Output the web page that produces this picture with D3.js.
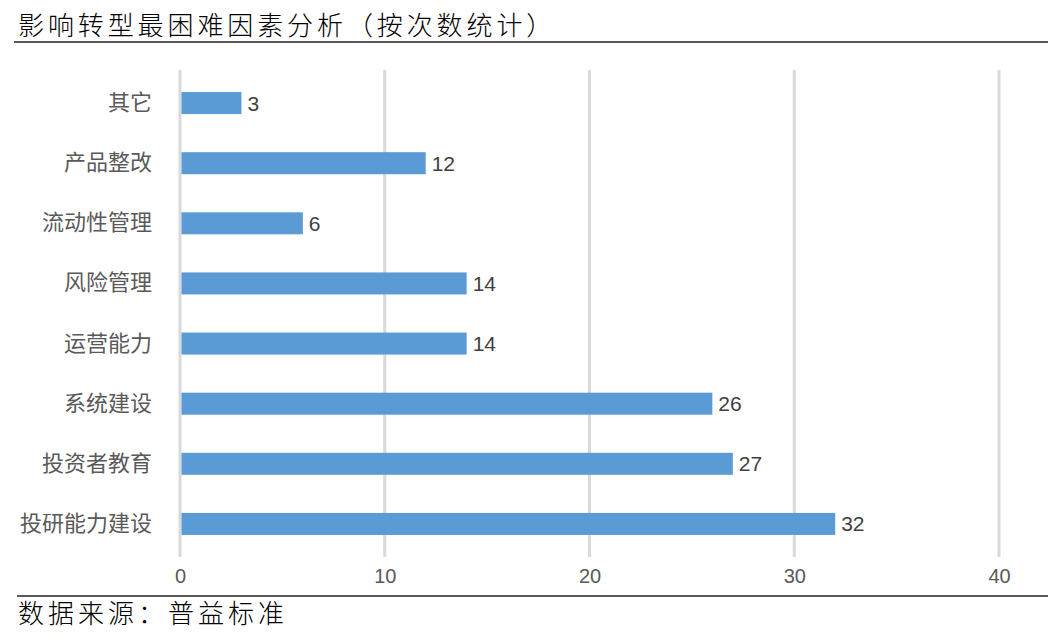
<!DOCTYPE html>
<html>
<head>
<meta charset="utf-8">
<script src="https://cdn.jsdelivr.net/npm/d3@7"></script>
<style>
  body { margin: 0; background: #fff; }
  svg { display: block; }
</style>
</head>
<body>
<div class="chart"></div>
<script>
// 影响转型最困难因素分析 chart

var categories = ["其它", "产品整改", "流动性管理", "风险管理", "运营能力", "系统建设", "投资者教育", "投研能力建设"];
var counts = [3, 12, 6, 14, 14, 26, 27, 32];
var xTicks = [0, 10, 20, 30, 40];

var titleText = "影响转型最困难因素分析（按次数统计）";
var sourceText = "数据来源：普益标准";

var svgWidth = 1048;
var svgHeight = 640;

var plot = { left: 180, right: 999, top: 73, bottom: 554 };

var svg = d3.select(".chart")
  .append("svg")
  .attr("width", svgWidth)
  .attr("height", svgHeight);

var cjk = "'Noto Sans CJK SC', 'Noto Sans', sans-serif";
var latin = "'Liberation Sans', Arial, Helvetica, sans-serif";

// title + rule
svg.append("text")
  .attr("x", 18)
  .attr("y", 35)
  .attr("font-family", cjk)
  .attr("font-weight", 300)
  .attr("font-size", 26)
  .attr("letter-spacing", 3.9)
  .attr("fill", "#000")
  .text(titleText);

svg.append("line")
  .attr("x1", 14).attr("x2", svgWidth)
  .attr("y1", 42).attr("y2", 42)
  .attr("stroke", "#595959")
  .attr("stroke-width", 2);

// scales
var xScale = d3.scaleLinear()
  .domain([0, 40])
  .range([plot.left, plot.right]);

var yScale = d3.scaleBand()
  .domain(categories)
  .range([plot.top, plot.bottom])
  .paddingInner(0.634)
  .paddingOuter(0.317);

// gridlines
svg.append("g")
  .selectAll("line")
  .data(xTicks)
  .enter()
  .append("line")
  .attr("x1", d => xScale(d))
  .attr("x2", d => xScale(d))
  .attr("y1", 70)
  .attr("y2", 557)
  .attr("stroke", "#d9d9d9")
  .attr("stroke-width", 3);

// x axis labels
var bottomAxis = d3.axisBottom(xScale)
  .tickValues(xTicks)
  .tickSize(0)
  .tickPadding(0);

var xAxis = svg.append("g")
  .attr("transform", `translate(0, 569)`)
  .call(bottomAxis);
xAxis.select(".domain").remove();
xAxis.selectAll("text")
  .attr("dy", "0.71em")
  .attr("font-family", latin)
  .attr("font-size", 20)
  .attr("fill", "#595959");

// y axis labels
var leftAxis = d3.axisLeft(yScale)
  .tickSize(0)
  .tickPadding(28);

var yAxis = svg.append("g")
  .attr("transform", `translate(${plot.left}, 0)`)
  .call(leftAxis);
yAxis.select(".domain").remove();
yAxis.selectAll("text")
  .attr("font-family", cjk)
  .attr("font-size", 22)
  .attr("fill", "#595959");

// bars
var rows = categories.map((c, i) => ({ name: c, value: counts[i] }));

svg.append("g")
  .selectAll("rect")
  .data(rows)
  .enter()
  .append("rect")
  .attr("x", xScale(0) + 1.5)
  .attr("y", d => yScale(d.name))
  .attr("width", d => xScale(d.value) - xScale(0) - 1.5)
  .attr("height", yScale.bandwidth())
  .attr("fill", "#5b9bd5");

// value labels
svg.append("g")
  .selectAll("text")
  .data(rows)
  .enter()
  .append("text")
  .attr("x", d => xScale(d.value) + 6)
  .attr("y", d => yScale(d.name) + yScale.bandwidth() / 2)
  .attr("dy", "0.36em")
  .attr("font-family", latin)
  .attr("font-size", 21)
  .attr("fill", "#404040")
  .text(d => d.value);

// source rule + text
svg.append("line")
  .attr("x1", 17).attr("x2", svgWidth)
  .attr("y1", 596).attr("y2", 596)
  .attr("stroke", "#595959")
  .attr("stroke-width", 2);

svg.append("text")
  .attr("x", 18)
  .attr("y", 623)
  .attr("font-family", cjk)
  .attr("font-weight", 300)
  .attr("font-size", 26)
  .attr("letter-spacing", 4)
  .attr("fill", "#000")
  .text(sourceText);
</script>
</body>
</html>
